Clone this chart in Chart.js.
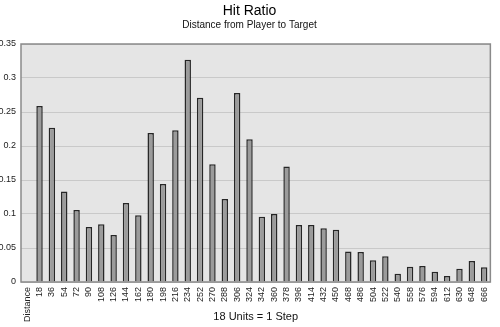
<!DOCTYPE html>
<html>
<head>
<meta charset="utf-8">
<title>Hit Ratio</title>
<script src="https://cdn.jsdelivr.net/npm/chart.js@4.4.1/dist/chart.umd.min.js"></script>
<style>
  html, body { margin: 0; padding: 0; background: #fff; }
  #wrap { width: 500px; height: 327px; position: relative; }
</style>
</head>
<body>
<div id="wrap"><canvas id="hit-chart"></canvas></div>
<script>
// distance steps (18 units each), first slot holds the axis caption
const distances = ["Distance", "18", "36", "54", "72", "90", "108", "126", "144", "162",
  "180", "198", "216", "234", "252", "270", "288", "306", "324", "342", "360", "378",
  "396", "414", "432", "450", "468", "486", "504", "522", "540", "558", "576", "594",
  "612", "630", "648", "666"];

const hitRatio = [null, 0.259, 0.227, 0.133, 0.106, 0.081, 0.085, 0.069, 0.116, 0.098,
  0.219, 0.144, 0.223, 0.327, 0.271, 0.173, 0.122, 0.278, 0.210, 0.096, 0.100, 0.170,
  0.084, 0.084, 0.079, 0.077, 0.045, 0.044, 0.032, 0.038, 0.012, 0.0225, 0.0235, 0.015,
  0.009, 0.0196, 0.031, 0.0216];

const yTicks = [0, 0.05, 0.1, 0.15, 0.2, 0.25, 0.3, 0.35];

const FONT = "'Liberation Sans', Arial, sans-serif";

// grey plot background with a frame around it
const plotFrame = {
  id: "plotFrame",
  beforeDraw(chart) {
    const { ctx, chartArea: a } = chart;
    ctx.save();
    ctx.fillStyle = "#e5e5e5";
    ctx.fillRect(a.left, a.top, a.right - a.left, a.bottom - a.top);
    ctx.restore();
  },
  afterDatasetsDraw(chart) {
    const { ctx, chartArea: a } = chart;
    ctx.save();
    ctx.strokeStyle = "#8a8a8a";
    ctx.lineWidth = 1.5;
    ctx.strokeRect(a.left, a.top, a.right - a.left, a.bottom - a.top);
    ctx.restore();
  }
};

new Chart(document.getElementById("hit-chart"), {
  type: "bar",
  data: {
    labels: distances,
    datasets: [
      {
        data: hitRatio,
        backgroundColor: "#9b9b9b",
        borderColor: "#262626",
        borderWidth: 1.5,
        barPercentage: 0.52,
        categoryPercentage: 1,
      },
    ],
  },
  plugins: [plotFrame],
  options: {
    responsive: true,
    maintainAspectRatio: false,
    animation: false,
    layout: { padding: { top: 0, right: 1, bottom: 0, left: 0 } },
    scales: {
      x: {
        afterFit(scale) { scale.height = 45; },
        grid: { display: false, drawTicks: false },
        border: { display: false },
        ticks: {
          autoSkip: false,
          minRotation: 90,
          maxRotation: 90,
          padding: 5,
          color: "#222",
          font: { family: FONT, size: 9 },
        },
        title: {
          display: true,
          text: "18 Units = 1 Step",
          color: "#111",
          font: { family: FONT, size: 11 },
          padding: { top: 0, bottom: 3 },
        },
      },
      y: {
        min: 0,
        max: 0.35,
        afterFit(scale) { scale.width = 21; },
        afterBuildTicks(scale) { scale.ticks = yTicks.map(v => ({ value: v })); },
        grid: { color: "#c9c9c9", lineWidth: 1, drawTicks: false },
        border: { display: false },
        ticks: {
          padding: 5,
          color: "#222",
          font: { family: FONT, size: 9 },
          callback: (value) => String(value),
        },
      },
    },
    plugins: {
      legend: { display: false },
      tooltip: { enabled: false },
      title: {
        display: true,
        text: "Hit Ratio",
        color: "#000",
        font: { family: FONT, size: 14, weight: "normal", lineHeight: 1 },
        padding: { top: 4, bottom: 1 },
      },
      subtitle: {
        display: true,
        text: "Distance from Player to Target",
        color: "#111",
        font: { family: FONT, size: 10, lineHeight: 1.2 },
        padding: { top: 0, bottom: 13 },
      },
    },
  },
});
</script>
</body>
</html>
